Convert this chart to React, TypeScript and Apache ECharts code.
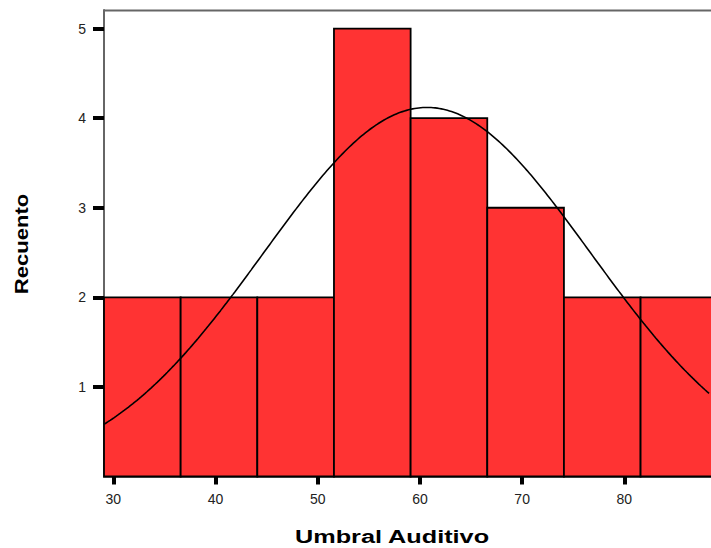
import React, { useEffect, useRef } from "react";
import * as echarts from "echarts";

const binStarts = [29.09, 36.59, 44.09, 51.59, 59.09, 66.59, 74.09, 81.59];
const binWidth = 7.5;
const counts = [2, 2, 2, 5, 4, 3, 2, 2];
const xTickValues = [30, 40, 50, 60, 70, 80];
const yTickValues = [1, 2, 3, 4, 5];
const X_MIN = 29.09;
const X_MAX = 88.48;
const Y_MAX = 5.207;
const fitMean = 60.7;
const fitSd = 15.98;
const xTitle = "Umbral Auditivo";
const yTitle = "Recuento";

export default function App() {
  const ref = useRef<HTMLDivElement>(null);
  useEffect(() => {
    if (!ref.current) return;
    const chart = echarts.init(ref.current, undefined, { renderer: "svg" });
    const n = counts.reduce((a, b) => a + b, 0);
    const scale = (n * binWidth) / (fitSd * Math.sqrt(2 * Math.PI));
    const curve: number[][] = [];
    for (let x = X_MIN; x <= X_MAX + 0.001; x += 0.2) {
      const z = (x - fitMean) / fitSd;
      curve.push([x, scale * Math.exp(-0.5 * z * z)]);
    }
    const barData = binStarts.map((s, i) => [s, s + binWidth, counts[i]]);
    const font = "'Liberation Sans', Arial, sans-serif";
    chart.setOption({
      animation: false,
      grid: { left: 104, right: 0, top: 10, bottom: 71.5 },
      xAxis: {
        type: "value",
        min: X_MIN,
        max: X_MAX,
        splitLine: { show: false },
        axisLine: { show: true, lineStyle: { color: "#777", width: 2 } },
        axisTick: {
          show: true,
          customValues: xTickValues,
          length: 8,
          inside: false,
          lineStyle: { color: "#000", width: 4 },
        },
        axisLabel: {
          customValues: xTickValues,
          margin: 15,
          fontSize: 14,
          color: "#222",
          fontFamily: font,
        },
      },
      yAxis: {
        type: "value",
        min: 0,
        max: Y_MAX,
        splitLine: { show: false },
        axisLine: { show: true, lineStyle: { color: "#666", width: 2 } },
        axisTick: {
          show: true,
          customValues: yTickValues,
          length: 11,
          lineStyle: { color: "#000", width: 4 },
        },
        axisLabel: {
          customValues: yTickValues,
          margin: 18,
          fontSize: 14,
          color: "#222",
          fontFamily: font,
        },
      },
      graphic: [
        {
          type: "line",
          shape: { x1: 104, y1: 10.5, x2: 711, y2: 10.5 },
          style: { stroke: "#666", lineWidth: 2 },
          z: 100,
        },
        {
          type: "text",
          x: 392,
          y: 537,
          scaleX: 1.33,
          style: {
            text: xTitle,
            font: `bold 19px ${font}`,
            fill: "#000",
            align: "center",
            verticalAlign: "middle",
          },
        },
        {
          type: "text",
          x: 21,
          y: 244,
          rotation: Math.PI / 2,
          scaleX: 1.16,
          style: {
            text: yTitle,
            font: `bold 19px ${font}`,
            fill: "#000",
            align: "center",
            verticalAlign: "middle",
          },
        },
      ],
      series: [
        {
          type: "custom",
          data: barData,
          z: 2,
          renderItem: (params: any, api: any) => {
            const p0 = api.coord([api.value(0), api.value(2)]);
            const p1 = api.coord([api.value(1), 0]);
            const rect = echarts.graphic.clipRectByRect(
              { x: p0[0], y: p0[1], width: p1[0] - p0[0], height: p1[1] - p0[1] },
              {
                x: params.coordSys.x,
                y: params.coordSys.y - 2,
                width: params.coordSys.width + 2,
                height: params.coordSys.height + 2,
              }
            );
            if (!rect) return null;
            return {
              type: "rect",
              shape: rect,
              style: { fill: "#ff3333", stroke: "#000", lineWidth: 1.8 },
            };
          },
        },
        {
          type: "line",
          data: curve,
          showSymbol: false,
          symbol: "none",
          z: 5,
          clip: true,
          lineStyle: { color: "#000", width: 1.6 },
        },
      ],
    });
    return () => chart.dispose();
  }, []);
  return (
    <div
      ref={ref}
      style={{ position: "fixed", left: 0, top: 0, width: 711, height: 548, background: "#fff" }}
    />
  );
}
